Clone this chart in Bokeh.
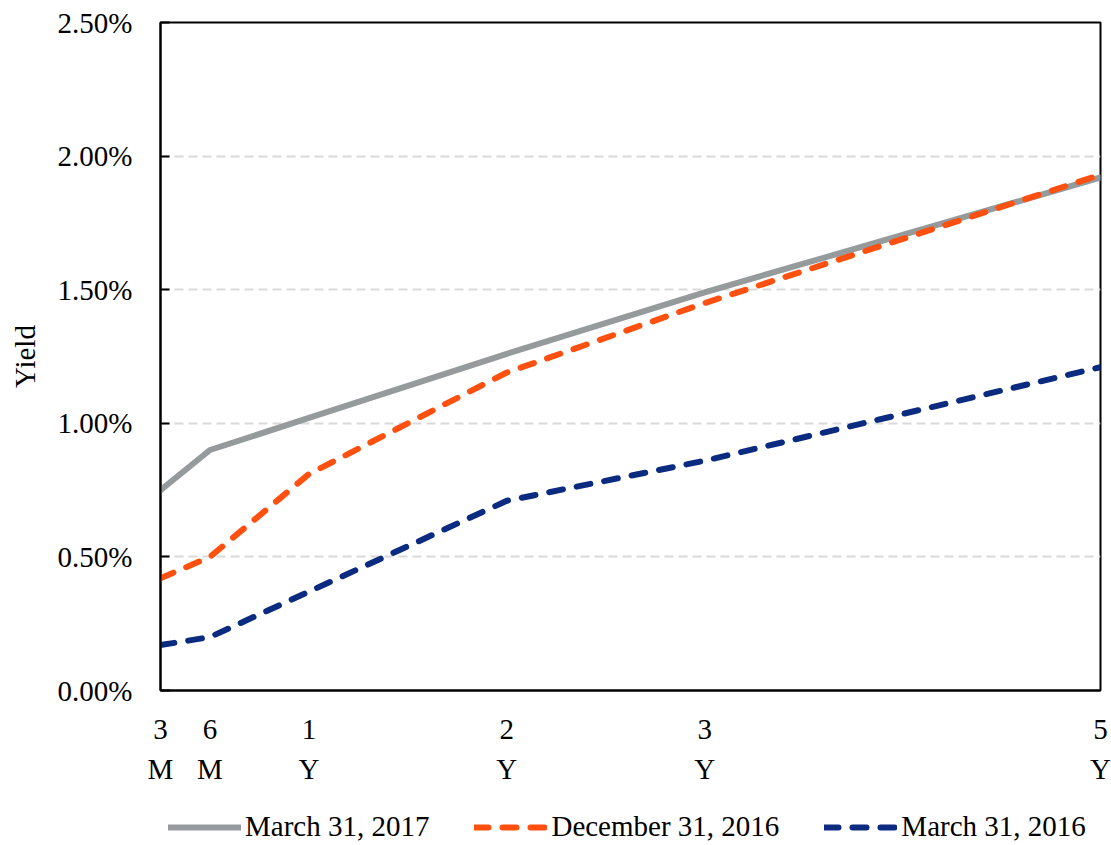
from bokeh.plotting import figure
from bokeh.layouts import column
from bokeh.models import (ColumnDataSource, Range1d, FixedTicker, NumeralTickFormatter,
                          Legend, LegendItem)
from bokeh.embed import file_html
from bokeh.resources import INLINE

# Treasury yield curve: maturity in years vs. yield (fraction)
maturities = [0.25, 0.5, 1, 2, 3, 5]
tick_labels = ["3\nM", "6\nM", "1\nY", "2\nY", "3\nY", "5\nY"]

yield_mar_2017 = [0.0075, 0.0090, 0.0102, 0.0126, 0.0149, 0.0192]
yield_dec_2016 = [0.0042, 0.0050, 0.0081, 0.0119, 0.0145, 0.0193]
yield_mar_2016 = [0.0017, 0.0020, 0.0037, 0.0071, 0.0086, 0.0121]

series_names = ["March 31, 2017", "December 31, 2016", "March 31, 2016"]
y_ticks = [0.0, 0.005, 0.010, 0.015, 0.020, 0.025]

FONT = "Liberation Serif"
COLORS = ["#959A9C", "#FF5010", "#0A2B80"]
DASHES = ["solid", "14 14", "14 14"]
COLS = ["a", "b", "c"]

src = ColumnDataSource(dict(m=maturities, a=yield_mar_2017, b=yield_dec_2016, c=yield_mar_2016))

p = figure(frame_width=940, frame_height=668, output_backend="svg", toolbar_location=None,
           x_range=Range1d(0.25, 5), y_range=Range1d(0, 0.025),
           min_border_left=160, min_border_right=11, min_border_top=22,
           min_border_bottom=110)

p.outline_line_color = "black"
p.outline_line_width = 2
p.background_fill_color = "white"
p.border_fill_color = "white"

# grid
p.xgrid.grid_line_color = None
p.ygrid.grid_line_color = "#D9D9D9"
p.ygrid.grid_line_width = 2
p.ygrid.grid_line_dash = "9 5"
p.ygrid.ticker = FixedTicker(ticks=y_ticks)

# y axis
p.yaxis.ticker = FixedTicker(ticks=y_ticks)
p.yaxis.formatter = NumeralTickFormatter(format="0.00%")
p.yaxis.axis_line_color = "black"
p.yaxis.axis_line_width = 2
p.yaxis.major_tick_in = 9
p.yaxis.major_tick_out = 0
p.yaxis.major_tick_line_width = 2
p.yaxis.minor_tick_line_color = None
p.yaxis.major_label_text_font = FONT
p.yaxis.major_label_text_font_size = "29px"
p.yaxis.major_label_text_color = "black"
p.yaxis.major_label_standoff = 28
p.yaxis.axis_label = "Yield"
p.yaxis.axis_label_text_font = FONT
p.yaxis.axis_label_text_font_size = "29px"
p.yaxis.axis_label_text_font_style = "normal"
p.yaxis.axis_label_text_color = "black"
p.yaxis.axis_label_standoff = 14

# x axis
p.xaxis.ticker = FixedTicker(ticks=maturities)
p.xaxis.major_label_overrides = {m: lab for m, lab in zip(maturities, tick_labels)}
p.xaxis.axis_line_color = "black"
p.xaxis.axis_line_width = 2
p.xaxis.major_tick_line_color = None
p.xaxis.minor_tick_line_color = None
p.xaxis.major_label_text_font = FONT
p.xaxis.major_label_text_font_size = "29px"
p.xaxis.major_label_text_color = "black"
p.xaxis.major_label_text_line_height = 1.25
p.xaxis.major_label_standoff = 16

for col, color, dash in zip(COLS, COLORS, DASHES):
    p.line("m", col, source=src, line_color=color, line_width=6, line_cap="round",
           line_join="round", line_dash=dash)

# legend strip underneath the chart
leg = figure(width=1111, height=45, output_backend="svg", toolbar_location=None,
             x_range=Range1d(100, 101), y_range=Range1d(100, 101),
             x_axis_location=None, y_axis_location=None,
             min_border=0, min_border_left=0, min_border_right=0,
             min_border_top=0, min_border_bottom=0)
leg.outline_line_color = None
leg.grid.grid_line_color = None
leg.background_fill_color = "white"
leg.border_fill_color = "white"

items = []
for name, col, color, dash in zip(series_names, COLS, COLORS, DASHES):
    r = leg.line("m", col, source=src, line_color=color, line_width=6, line_cap="round",
                 line_join="round", line_dash=dash)
    items.append(LegendItem(label=name, renderers=[r]))

legend = Legend(items=items, orientation="horizontal", location=(8, 2),
                label_text_font=FONT, label_text_font_size="29px",
                label_text_color="black", glyph_width=73, glyph_height=20,
                label_standoff=4, spacing=45, padding=0, margin=0,
                border_line_color=None, background_fill_alpha=0)
leg.add_layout(legend, "center")

layout = column(p, leg, spacing=0)
open("out.html", "w").write(file_html(layout, INLINE))
